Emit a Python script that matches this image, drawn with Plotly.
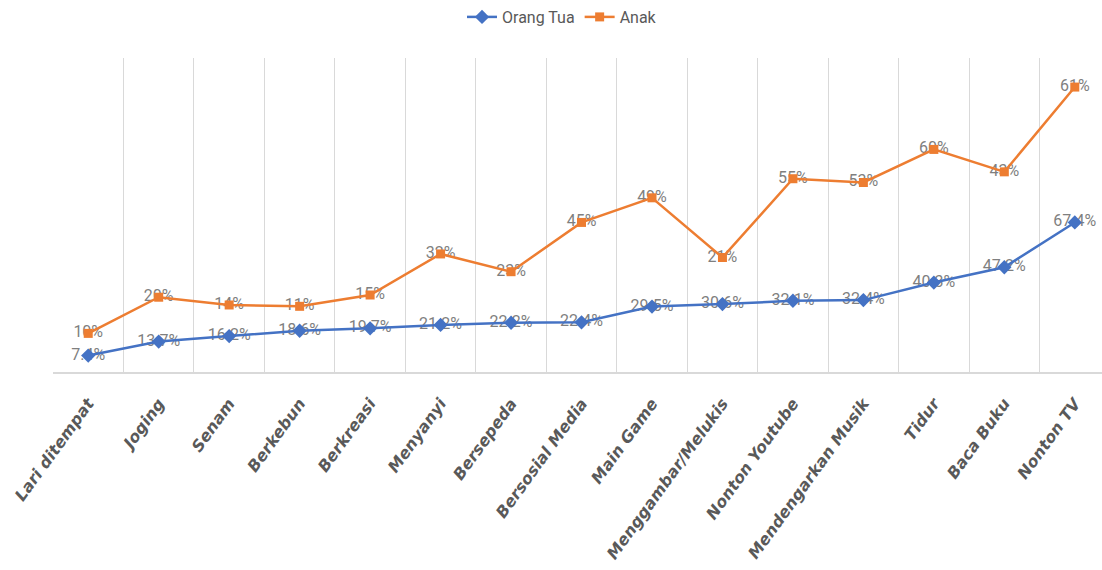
import plotly.graph_objects as go

categories = ["Lari ditempat", "Joging", "Senam", "Berkebun", "Berkreasi", "Menyanyi",
              "Bersepeda", "Bersosial Media", "Main Game", "Menggambar/Melukis",
              "Nonton Youtube", "Mendengarkan Musik", "Tidur", "Baca Buku", "Nonton TV"]
orang_tua = [7.4, 13.7, 16.2, 18.6, 19.7, 21.2, 22.2, 22.4, 29.5, 30.6, 32.1, 32.4, 40.3, 47.2, 67.4]
anak = [10, 20, 14, 11, 15, 32, 23, 45, 49, 21, 55, 53, 60, 43, 61]

ot_labels = [f"{v:.1f}%" for v in orang_tua]
anak_labels = [f"{v:d}%" for v in anak]

BLUE = "#4472C4"
ORANGE = "#ED7D31"
LABEL_FONT = dict(family="Roboto, sans-serif", size=16, color="#7F7F7F")

fig = go.Figure()

# data labels first (drawn underneath the markers), stacked like the lines
fig.add_trace(go.Scatter(x=categories, y=orang_tua, mode="text", text=ot_labels,
                         textposition="middle center", textfont=LABEL_FONT,
                         stackgroup="labels", fill="none", showlegend=False, hoverinfo="skip"))
fig.add_trace(go.Scatter(x=categories, y=anak, mode="text", text=anak_labels,
                         textposition="middle center", textfont=LABEL_FONT,
                         stackgroup="labels", fill="none", showlegend=False, hoverinfo="skip"))

fig.add_trace(go.Scatter(x=categories, y=orang_tua, name="Orang Tua", mode="lines+markers",
                         line=dict(color=BLUE, width=2.5),
                         marker=dict(symbol="diamond", size=11, color=BLUE),
                         stackgroup="lines", fill="none"))
fig.add_trace(go.Scatter(x=categories, y=anak, name="Anak", mode="lines+markers",
                         line=dict(color=ORANGE, width=2.5),
                         marker=dict(symbol="square", size=9, color=ORANGE),
                         stackgroup="lines", fill="none"))

fig.update_layout(
    width=1102, height=570,
    margin=dict(l=53, r=0, t=58, b=198),
    paper_bgcolor="white", plot_bgcolor="white",
    showlegend=True,
    legend=dict(orientation="h", x=0.51, xref="container", xanchor="center",
                y=1.0, yref="container", yanchor="top",
                font=dict(family="Roboto, sans-serif", size=16, color="#595959"),
                traceorder="normal", itemwidth=30),
    xaxis=dict(type="category", range=[-0.5, 14.386], tickson="boundaries",
               showgrid=True, gridcolor="#D9D9D9", gridwidth=1,
               showline=True, linecolor="#D9D9D9", linewidth=1.5,
               ticks="", tickangle=-54, ticklabelstandoff=14,
               tickfont=dict(family="DejaVu Sans", size=16, color="#595959",
                             weight="bold", style="italic")),
    yaxis=dict(range=[0, 141.5], showgrid=False, showticklabels=False, zeroline=False,
               showline=False, ticks=""),
)

fig.write_html("out.html")
